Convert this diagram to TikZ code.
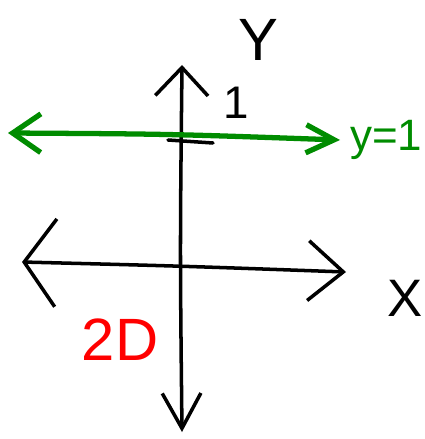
\documentclass[tikz,border=0pt]{standalone}
\usepackage{fontspec}
\setsansfont{Liberation Sans}
\usepackage{xcolor}
\usetikzlibrary{arrows.meta, positioning, calc}

\definecolor{penGreen}{RGB}{0,140,0}

\begin{document}
\begin{tikzpicture}[x=0.02cm, y=-0.02cm, font=\sffamily, line cap=round, line join=round]
  \useasboundingbox (0,0) rectangle (425,439);

  % axes
  \coordinate (ytop) at (182, 65);
  \coordinate (ybot) at (182, 432);
  \coordinate (xleft) at (22, 262);
  \coordinate (xright) at (346, 272);
  \draw[line width=2pt, {Straight Barb[length=16pt, width=30pt]}-{Straight Barb[length=20pt, width=22pt]}]
    (ytop) .. controls (180, 250) .. (ybot);
  \draw[line width=2pt, {Straight Barb[length=18pt, width=50pt]}-{Straight Barb[length=20pt, width=34pt]}]
    (xleft) .. controls (180, 266) .. (xright);
  \node[font=\sffamily\fontsize{34}{34}\selectfont] (ylab) at (258, 40) {Y};
  \node[font=\sffamily\fontsize{30}{30}\selectfont] (xlab) at (405, 298) {X};

  % tick at 1
  \coordinate (tickL) at (168, 140);
  \coordinate (tickR) at (213, 143);
  \draw[line width=2pt] (tickL) -- (tickR);
  \node[font=\sffamily\fontsize{26}{26}\selectfont] (one) at (236, 103) {1};

  % line y = 1
  \coordinate (gleft) at (8, 133);
  \coordinate (gright) at (340, 140);
  \draw[penGreen, line width=3pt, {Straight Barb[length=16pt, width=22pt]}-{Straight Barb[length=16pt, width=16pt]}]
    (gleft) .. controls (170, 134) .. (gright);
  \node[text=penGreen, anchor=west, inner sep=0pt, font=\sffamily\fontsize{25}{25}\selectfont] (gl) at (350, 140) {y=1};

  \node[text=red, font=\sffamily\fontsize{34}{34}\selectfont] (dim) at (120, 340) {2D};
\end{tikzpicture}
\end{document}
